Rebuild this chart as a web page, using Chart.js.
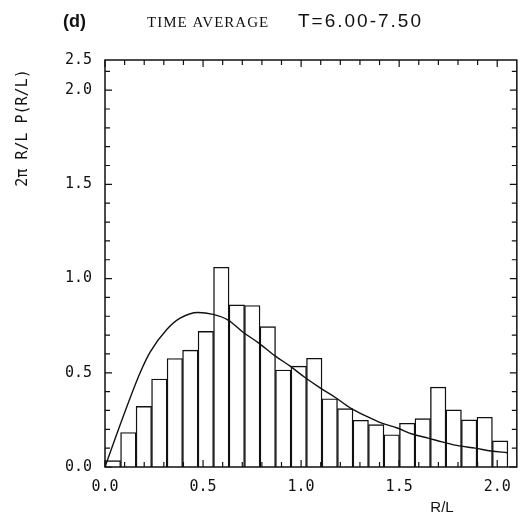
<!DOCTYPE html>
<html>
<head>
<meta charset="utf-8">
<script src="https://cdn.jsdelivr.net/npm/chart.js@4"></script>
<style>
  body { margin: 0; background: #fff; }
  #wrap { width: 522px; height: 523px; position: relative; }
</style>
</head>
<body>
<div id="wrap"><canvas id="histChart"></canvas></div>
<script>
// histogram bins (centres, R/L) and heights
const binCenters = [0.040, 0.119, 0.198, 0.277, 0.356, 0.435, 0.514, 0.593, 0.672, 0.751,
    0.830, 0.909, 0.988, 1.067, 1.146, 1.225, 1.304, 1.383, 1.462, 1.541,
    1.620, 1.699, 1.778, 1.857, 1.936, 2.015];
const binHeights = [0.034, 0.183, 0.322, 0.467, 0.576, 0.620, 0.720, 1.060, 0.860, 0.857,
    0.745, 0.515, 0.535, 0.577, 0.362, 0.310, 0.248, 0.225, 0.171, 0.232,
    0.257, 0.424, 0.303, 0.250, 0.264, 0.139];

// smooth theory curve
const curveX = [0, 0.09, 0.179, 0.230, 0.315, 0.383, 0.474, 0.551, 0.628, 0.704, 0.781, 0.867,
    0.944, 1.020, 1.097, 1.173, 1.250, 1.332, 1.408, 1.490, 1.566, 1.648, 1.724,
    1.806, 1.888, 1.969, 2.051];
const curveY = [0, 0.26, 0.50, 0.61, 0.73, 0.79, 0.82, 0.81, 0.78, 0.715, 0.66, 0.59,
    0.535, 0.475, 0.42, 0.37, 0.314, 0.27, 0.234, 0.207, 0.175, 0.153, 0.132,
    0.112, 0.100, 0.085, 0.076];

// axis ticks (top y tick is labelled 2.5 in the original even though it sits at the frame top)
const xTickValues = [0, 0.5, 1.0, 1.5, 2.0];
const xTickLabels = ["0.0", "0.5", "1.0", "1.5", "2.0"];
const yTickValues = [0, 0.5, 1.0, 1.5, 2.0, 2.16];
const yTickLabels = ["0.0", "0.5", "1.0", "1.5", "2.0", "2.5"];

const ink = "#111";
const monoFont = { family: "'DejaVu Sans Mono', monospace", size: 15 };

const framePlugin = {
    id: "frame",
    afterDatasetsDraw(chart) {
        const { ctx, chartArea: a, scales } = chart;
        ctx.save();
        ctx.strokeStyle = ink;
        ctx.lineWidth = 1.5;
        ctx.strokeRect(a.left, a.top, a.right - a.left, a.bottom - a.top);
        // inward tick marks every 0.1
        ctx.lineWidth = 1.2;
        for (let i = 0; i <= 21; i++) {
            const v = i / 10;
            const len = i % 5 === 0 ? 7 : 5;
            const px = scales.x.getPixelForValue(v);
            if (px < a.right - 1) {
                ctx.beginPath();
                ctx.moveTo(px, a.bottom); ctx.lineTo(px, a.bottom - len);
                ctx.moveTo(px, a.top); ctx.lineTo(px, a.top + len);
                ctx.stroke();
            }
            const py = scales.y.getPixelForValue(v);
            if (py > a.top + 1) {
                ctx.beginPath();
                ctx.moveTo(a.left, py); ctx.lineTo(a.left + len, py);
                ctx.moveTo(a.right, py); ctx.lineTo(a.right - len, py);
                ctx.stroke();
            }
        }
        ctx.restore();
    },
    afterDraw(chart) {
        const ctx = chart.ctx;
        ctx.save();
        ctx.fillStyle = ink;
        ctx.textBaseline = "alphabetic";
        ctx.textAlign = "left";
        ctx.font = "bold 18px 'Liberation Sans', sans-serif";
        ctx.fillText("(d)", 63, 27);
        ctx.font = "15px 'Liberation Serif', serif";
        ctx.letterSpacing = "1px";
        ctx.fillText("TIME AVERAGE", 147, 27);
        ctx.font = "19px 'Liberation Sans', sans-serif";
        ctx.letterSpacing = "2px";
        ctx.fillText("T=6.00-7.50", 298, 27);
        ctx.letterSpacing = "0px";
        ctx.font = "15px 'Liberation Sans', sans-serif";
        ctx.textAlign = "center";
        ctx.fillText("R/L", 442, 512);
        // y-axis title
        ctx.translate(27, 128);
        ctx.rotate(-Math.PI / 2);
        ctx.font = "15px 'DejaVu Sans Mono', monospace";
        ctx.fillText("2π R/L P(R/L)", 0, 0);
        ctx.restore();
    }
};

new Chart(document.getElementById("histChart").getContext("2d"), {
    type: "bar",
    data: {
        datasets: [
            {
                type: "line",
                data: curveX.map((x, i) => ({ x: x, y: curveY[i] })),
                borderColor: ink,
                borderWidth: 1.4,
                pointRadius: 0,
                cubicInterpolationMode: "monotone",
                fill: false,
                order: 0,
            },
            {
                type: "bar",
                data: binCenters.map((x, i) => ({ x: x, y: binHeights[i] })),
                backgroundColor: "#fff",
                borderColor: ink,
                borderWidth: 1.4,
                barPercentage: 1,
                categoryPercentage: 1,
                order: 1,
            },
        ],
    },
    plugins: [framePlugin],
    options: {
        responsive: true,
        maintainAspectRatio: false,
        animation: false,
        layout: { padding: { left: 0, top: 60, right: 5, bottom: 0 } },
        plugins: { legend: { display: false }, tooltip: { enabled: false } },
        scales: {
            x: {
                type: "linear",
                min: 0,
                max: 2.10,
                offset: false,
                grid: { display: false, drawTicks: false },
                border: { display: false },
                afterBuildTicks: (s) => { s.ticks = xTickValues.map((v) => ({ value: v })); },
                afterFit: (s) => { s.height = 56; },
                ticks: {
                    color: ink,
                    font: monoFont,
                    padding: 11,
                    maxRotation: 0,
                    autoSkip: false,
                    callback: (v) => xTickLabels[xTickValues.indexOf(v)],
                },
            },
            y: {
                min: 0,
                max: 2.16,
                grid: { display: false, drawTicks: false },
                border: { display: false },
                afterBuildTicks: (s) => { s.ticks = yTickValues.map((v) => ({ value: v })); },
                afterFit: (s) => { s.width = 105; },
                ticks: {
                    color: ink,
                    font: monoFont,
                    padding: 13,
                    autoSkip: false,
                    callback: (v) => yTickLabels[yTickValues.indexOf(v)],
                },
            },
        },
    },
});
</script>
</body>
</html>
